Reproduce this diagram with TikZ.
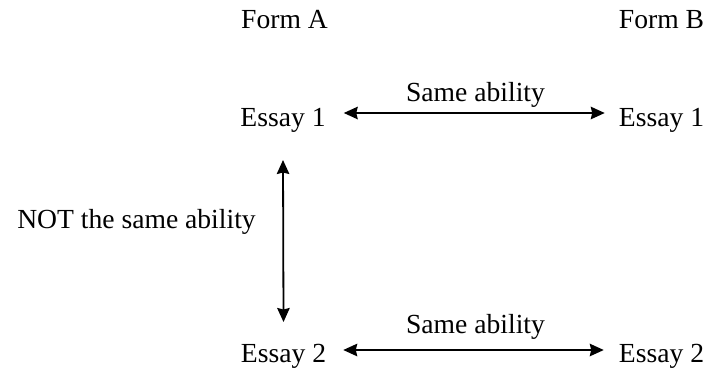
\documentclass[tikz,border=0pt]{standalone}
\usepackage{fontspec}
\setmainfont{Liberation Serif}
\usetikzlibrary{arrows.meta}
\begin{document}
\begin{tikzpicture}[x=1pt,y=-1pt,
  lbl/.style={inner sep=0pt,anchor=base,font=\fontsize{27.6}{30}\selectfont},
  tip/.style={Stealth[length=14pt,width=12.5pt,inset=1.5pt]},
  arr/.style={line width=1.8pt,{Stealth[length=14pt,width=12.5pt,inset=1.5pt]}-{Stealth[length=14pt,width=12.5pt,inset=1.5pt]}}]
\useasboundingbox (0,0) rectangle (708,370);
\node[lbl] (fa) at (284.5,28) {Form A};
\node[lbl] (fb) at (661.5,28) {Form B};
\node[lbl] (e1a) at (283,126) {Essay 1};
\node[lbl] (e1b) at (661.5,126) {Essay 1};
\node[lbl] (e2a) at (283.5,362) {Essay 2};
\node[lbl] (e2b) at (661.5,362) {Essay 2};
\node[lbl] (s1) at (475.5,101) {Same ability};
\node[lbl] (s2) at (475.5,333) {Same ability};
\node[lbl] (ns) at (136.5,228) {NOT the same ability};
\draw[arr] ([xshift=18pt,yshift=13pt]e1a.base east) -- ([xshift=-14pt,yshift=13pt]e1b.base west);
\draw[arr] ([xshift=17pt,yshift=12pt]e2a.base east) -- ([xshift=-15pt,yshift=12pt]e2b.base west);
\draw[arr] ([yshift=-34pt]e1a.base) -- ([yshift=40pt]e2a.base);
\end{tikzpicture}
\end{document}
